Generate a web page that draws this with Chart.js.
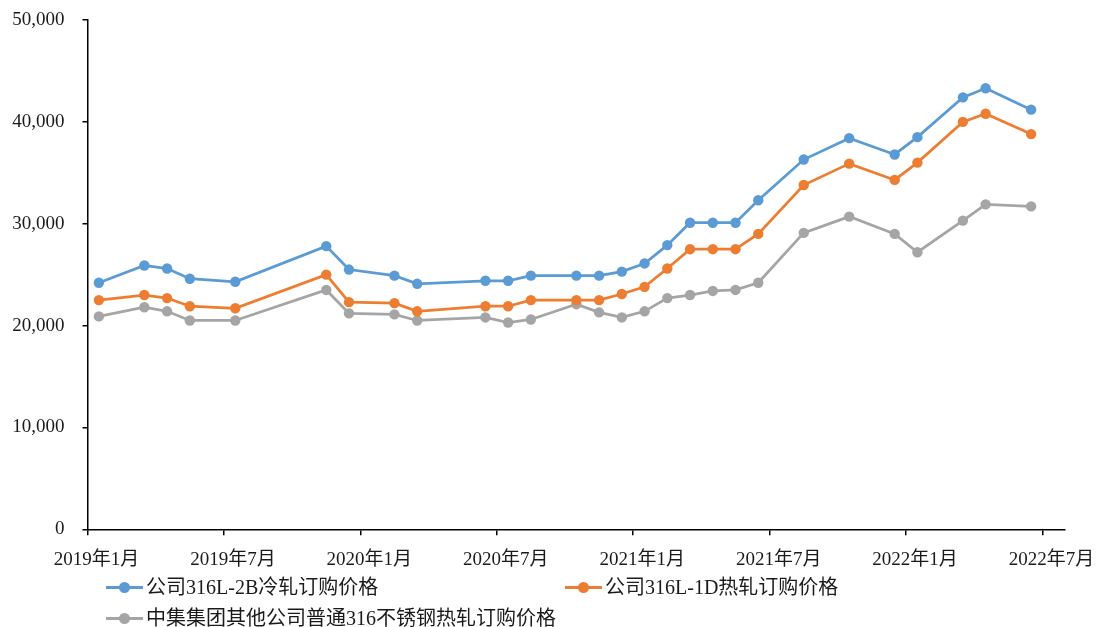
<!DOCTYPE html>
<html lang="zh-CN">
<head>
<meta charset="utf-8">
<title>316不锈钢订购价格</title>
<script src="https://cdn.jsdelivr.net/npm/chart.js@4/dist/chart.umd.min.js"></script>
<style>
    html, body { margin: 0; padding: 0; background: #fff; }
    #wrap { position: relative; width: 1099px; height: 627px; overflow: hidden; }
    #chart { position: absolute; left: 0; top: 0; }
    .legend-item {
        position: absolute;
        display: flex;
        align-items: center;
        height: 20px;
        line-height: 20px;
        font: 20px/20px "Liberation Serif", "Noto Sans CJK SC", serif;
        color: #1a1a1a;
        white-space: nowrap;
    }
    .legend-key { position: relative; width: 37px; height: 20px; margin-right: 3px; }
    .legend-key .ln { position: absolute; left: 0; right: 0; top: 8.5px; height: 3px; }
    .legend-key .dot { position: absolute; left: 13px; top: 4.5px; width: 11px; height: 11px; border-radius: 50%; }
</style>
</head>
<body>
<div id="wrap">
    <canvas id="chart" width="1099" height="627"></canvas>
</div>
<script>
// sampling months of the order prices
const months = ['2019-01', '2019-03', '2019-04', '2019-05', '2019-07', '2019-11', '2019-12',
    '2020-02', '2020-03', '2020-06', '2020-07', '2020-08', '2020-10', '2020-11', '2020-12',
    '2021-01', '2021-02', '2021-03', '2021-04', '2021-05', '2021-06', '2021-08', '2021-10', '2021-12',
    '2022-01', '2022-03', '2022-04', '2022-06'];

const coldRolled2B = [24200, 25900, 25600, 24600, 24300, 27800, 25500, 24900, 24100, 24400, 24400, 24900,
    24900, 24900, 25300, 26100, 27900, 30100, 30100, 30100, 32300, 36300, 38400, 36800, 38500, 42400, 43300, 41200];
const hotRolled1D = [22500, 23000, 22700, 21900, 21700, 25000, 22300, 22200, 21400, 21900, 21900, 22500,
    22500, 22500, 23100, 23800, 25600, 27500, 27500, 27500, 29000, 33800, 35900, 34300, 36000, 40000, 40800, 38800];
const cimcOthers316 = [20900, 21800, 21400, 20500, 20500, 23500, 21200, 21100, 20500, 20800, 20300, 20600,
    22100, 21300, 20800, 21400, 22700, 23000, 23400, 23500, 24200, 29100, 30700, 29000, 27200, 30300, 31900, 31700];

const seriesNames = ['公司316L-2B冷轧订购价格', '公司316L-1D热轧订购价格', '中集集团其他公司普通316不锈钢热轧订购价格'];
const seriesColors = ['#5B9BD5', '#ED7D31', '#A5A5A5'];

const xTickLabels = ['2019年1月', '2019年7月', '2020年1月', '2020年7月', '2021年1月', '2021年7月', '2022年1月', '2022年7月'];
const yTicks = [0, 10000, 20000, 30000, 40000, 50000];

// month slots counted from 2019年1月; Excel draws each point in the middle of its month
const START_YEAR = 2019;
function monthIndex(y, m) { return (y - START_YEAR) * 12 + (m - 1); }
function slotOf(ym) {
    const [y, m] = ym.split('-').map(Number);
    return monthIndex(y, m) + 0.5;
}
const tickSlots = xTickLabels.map(l => {
    const [, y, m] = l.match(/(\d+)年(\d+)月/);
    return monthIndex(+y, +m);
});

const axisFont = { family: '"Liberation Serif", "Noto Sans CJK SC", serif', size: 19 };

function buildDataset(name, values, color) {
    return {
        label: name,
        data: values.map((v, i) => ({ x: slotOf(months[i]), y: v })),
        borderColor: color,
        backgroundColor: color,
        borderWidth: 2.75,
        pointRadius: 5.2,
        pointHoverRadius: 5.2,
        pointBorderWidth: 0,
        tension: 0
    };
}

const chart = new Chart(document.getElementById('chart'), {
    type: 'line',
    data: {
        datasets: [
            buildDataset(seriesNames[0], coldRolled2B, seriesColors[0]),
            buildDataset(seriesNames[1], hotRolled1D, seriesColors[1]),
            buildDataset(seriesNames[2], cimcOthers316, seriesColors[2])
        ]
    },
    options: {
        responsive: false,
        animation: false,
        layout: { padding: { top: 20, right: 33.3, bottom: 57.7, left: 0 } },
        plugins: {
            legend: { display: false },
            tooltip: { enabled: false }
        },
        scales: {
            x: {
                type: 'linear',
                min: 0,
                max: monthIndex(2022, 7) + 1,
                afterBuildTicks: s => { s.ticks = tickSlots.map(v => ({ value: v })); },
                afterFit: s => { s.height = 40; },
                ticks: {
                    autoSkip: false,
                    maxRotation: 0,
                    padding: 13,
                    labelOffset: 9,
                    color: '#1a1a1a',
                    font: axisFont,
                    callback: (v) => xTickLabels[tickSlots.indexOf(v)]
                },
                grid: { drawOnChartArea: false, drawTicks: true, tickLength: 6, color: '#000', lineWidth: 1.5 },
                border: { display: true, color: '#000', width: 1.5 }
            },
            y: {
                min: 0,
                max: 50000,
                afterBuildTicks: s => { s.ticks = yTicks.map(v => ({ value: v })); },
                // fixed width; the tick padding must not push the plot top down
                afterFit: s => { s.width = 87.5; s.paddingTop = 0; s.paddingBottom = 0; },
                ticks: {
                    padding: 18,
                    color: '#1a1a1a',
                    font: axisFont,
                    callback: v => v.toLocaleString('en-US')
                },
                grid: { drawOnChartArea: false, drawTicks: true, tickLength: 5, color: '#000', lineWidth: 1.5 },
                border: { display: true, color: '#000', width: 1.5 }
            }
        }
    }
});

// legend laid out like the Excel original: two items on the first row, one on the second
const legendSpots = [[106, 577], [565, 577], [106, 608]];
chart.data.datasets.forEach((ds, i) => {
    const item = document.createElement('div');
    item.className = 'legend-item';
    item.style.left = legendSpots[i][0] + 'px';
    item.style.top = legendSpots[i][1] + 'px';
    item.innerHTML = `<span class="legend-key"><span class="ln" style="background:${ds.borderColor}"></span>` +
        `<span class="dot" style="background:${ds.borderColor}"></span></span><span>${ds.label}</span>`;
    document.getElementById('wrap').appendChild(item);
});
</script>
</body>
</html>
